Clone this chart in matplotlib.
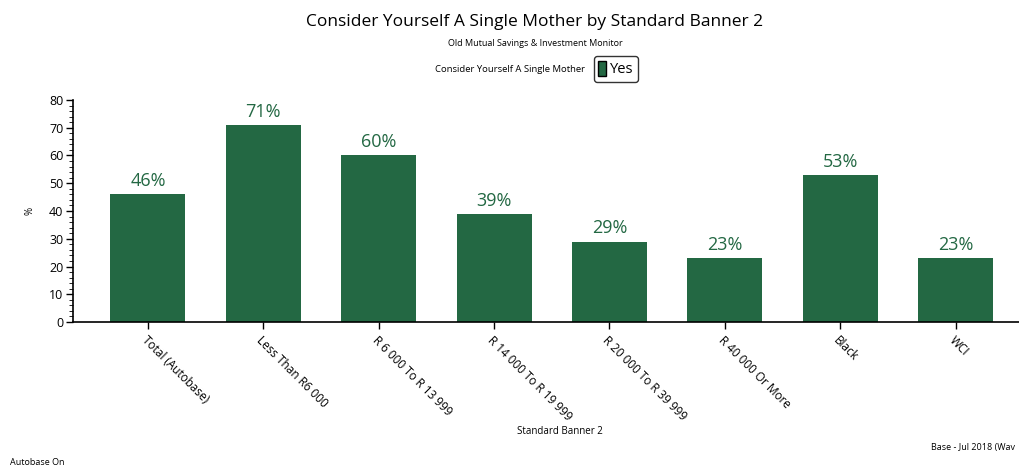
import matplotlib.pyplot as plt
from matplotlib.ticker import MultipleLocator
from matplotlib.patches import Patch

categories = ["Total (Autobase)", "Less Than R6 000", "R 6 000 To R 13 999",
              "R 14 000 To R 19 999", "R 20 000 To R 39 999", "R 40 000 Or More",
              "Black", "WCI"]
yes_values = [46, 71, 60, 39, 29, 23, 53, 23]

green = "#236843"
plt.rcParams['font.family'] = ['Open Sans', 'DejaVu Sans']

fig = plt.figure(figsize=(10.19, 4.65), dpi=100)
ax = fig.add_axes([73 / 1019, 1 - 322 / 465, (1019 - 73) / 1019, 222 / 465])

x = list(range(len(categories)))
ax.bar(x, yes_values, width=0.65, color=green)
for xi, v in zip(x, yes_values):
    ax.text(xi, v + 1.5, f"{v}%", ha='center', va='bottom', fontsize=13, color=green)

ax.set_xlim(-0.65, 7.55)
ax.set_ylim(0, 80)
ax.yaxis.set_major_locator(MultipleLocator(10))
ax.yaxis.set_minor_locator(MultipleLocator(2))
ax.tick_params(axis='y', labelsize=9, length=5, width=1, pad=2)
ax.tick_params(axis='y', which='minor', length=3)
ax.tick_params(axis='x', length=5, width=1)
ax.set_xticks(x)
ax.set_xticklabels(categories, rotation=-45, ha='left', va='top',
                   rotation_mode='anchor', fontsize=8.5)
for s in ['top', 'right']:
    ax.spines[s].set_visible(False)
ax.spines['left'].set_linewidth(1.2)
ax.spines['bottom'].set_linewidth(1.2)
ax.set_ylabel("%", fontsize=7, labelpad=10)
ax.set_xlabel("Standard Banner 2", fontsize=7)
ax.xaxis.set_label_coords((560 - 73) / (1019 - 73), -(426 - 322) / 222)

fig.text(0.525, 1 - 22 / 465, "Consider Yourself A Single Mother by Standard Banner 2",
         ha='center', va='center', fontsize=12.5)
fig.text(0.525, 1 - 44 / 465, "Old Mutual Savings & Investment Monitor",
         ha='center', va='center', fontsize=6.5)
fig.text(585 / 1019, 1 - 69 / 465, "Consider Yourself A Single Mother",
         ha='right', va='center', fontsize=6.8)
leg = fig.legend(handles=[Patch(facecolor=green, edgecolor='black', label='Yes')],
                 loc='center', bbox_to_anchor=(616 / 1019, 1 - 69 / 465),
                 fontsize=10.5, handlelength=0.5, handleheight=1.2, handletextpad=0.3,
                 borderpad=0.3, fancybox=True, edgecolor='black')
leg.get_frame().set_linewidth(1)
fig.text(1015 / 1019, 1 - 447 / 465, "Base - Jul 2018 (Wav", ha='right', va='center', fontsize=6.5)
fig.text(10 / 1019, 1 - 462 / 465, "Autobase On", ha='left', va='center', fontsize=6.5)

fig.savefig("out.png", dpi=100)
